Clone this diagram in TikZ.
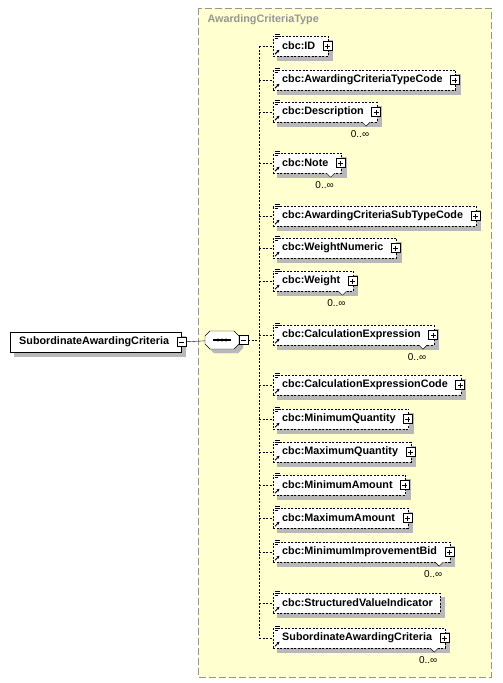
\documentclass[tikz,border=0pt]{standalone}
\usepackage{fontspec}
\setmainfont{Liberation Sans}
\usetikzlibrary{arrows.meta}

\definecolor{typebg}{RGB}{255,255,208}
\definecolor{typeline}{RGB}{150,150,150}

\pgfdeclarelayer{back}
\pgfdeclarelayer{shade}
\pgfsetlayers{back,shade,main}

\begin{document}
\begin{tikzpicture}[x=1pt,y=-1pt,
    every node/.style={font=\bfseries\fontsize{10.8}{12}\selectfont},
    elem/.style={draw,dash pattern=on 2pt off 1.5pt,fill=white,anchor=west,
      minimum height=20pt,inner xsep=0pt,inner ysep=0pt},
    root/.style={draw,fill=white,anchor=west,minimum height=20pt,
      inner xsep=0pt,inner ysep=0pt},
    seq/.style={minimum width=34pt,minimum height=18pt,inner sep=0pt},
    shadebox/.style={draw=black!28,line width=0.1pt,fill=black!28},
    plusbox/.style={draw,solid,fill=white,minimum size=9pt,inner sep=0pt,
      path picture={\draw ([xshift=-2.5pt]path picture bounding box.center) -- ([xshift=2.5pt]path picture bounding box.center)
        ([yshift=-2.5pt]path picture bounding box.center) -- ([yshift=2.5pt]path picture bounding box.center);}},
    minusbox/.style={draw,solid,fill=white,minimum size=9pt,inner sep=0pt,
      path picture={\draw ([xshift=-2.5pt]path picture bounding box.center) -- ([xshift=2.5pt]path picture bounding box.center);}},
    link/.style={draw,dash pattern=on 2pt off 1.5pt},
    mult/.style={font=\fontsize{10}{11}\selectfont}
  ]
\useasboundingbox (0,0) rectangle (503,683);

% the complex type
\begin{pgfonlayer}{back}
\draw[fill=typebg,draw=typeline,dash pattern=on 7pt off 3pt] (198,8) rectangle (491,677);
\end{pgfonlayer}
\node[anchor=base west,text=typeline] (tname) at (204,22) {AwardingCriteriaType};

% root element and sequence
\node[root] (root) at (10,342) {\hspace*{9pt}SubordinateAwardingCriteria\hspace*{12pt}};
\node[minusbox] (rootm) at (root.east) {};
\node[seq] (seq) at (222,340) {};
\draw[shadebox] (214,335) -- (238,335) -- (243,340) -- (243,348)
  -- (238,353) -- (214,353) -- (209,348) -- (209,340) -- cycle;
\draw[fill=white] (210,331) -- (234,331) -- (239,336) -- (239,344)
  -- (234,349) -- (210,349) -- (205,344) -- (205,336) -- cycle;
\draw[line width=1.2pt] ([xshift=-9pt]seq.center) -- ([xshift=9pt]seq.center);
\foreach \dx in {-4,0,4}
  \fill ([xshift=\dx pt]seq.center) circle (1.7pt);
\node[minusbox] (seqm) at ([xshift=4.5pt]seq.east) {};
\draw (rootm) -- (seq);
\coordinate (bus) at (259,340);
\draw[link] (seqm) -- (bus);

% child elements
\foreach \n/\y/\t in {id/46/cbc:ID, tcode/80/cbc:AwardingCriteriaTypeCode,
    desc/112/cbc:Description, note/163/cbc:Note,
    stcode/216/cbc:AwardingCriteriaSubTypeCode, wnum/248/cbc:WeightNumeric,
    weight/281/cbc:Weight, calc/335/cbc:CalculationExpression,
    ccode/385/cbc:CalculationExpressionCode, minq/419/cbc:MinimumQuantity,
    maxq/452/cbc:MaximumQuantity, mina/485/cbc:MinimumAmount,
    maxa/518/cbc:MaximumAmount, mib/552/cbc:MinimumImprovementBid,
    sac/638/SubordinateAwardingCriteria}
{
  \node[elem] (\n) at (273,\y) {\hspace*{9pt}\t\hspace*{13pt}};
  \node[plusbox] (\n p) at ([xshift=-1pt]\n.east) {};
}
\node[elem] (svi) at (273,603) {\hspace*{9pt}cbc:StructuredValueIndicator\hspace*{7pt}};

% shadows, icons and connectors
\begin{pgfonlayer}{shade}
\foreach \n in {root,id,tcode,desc,note,stcode,wnum,weight,calc,ccode,minq,maxq,mina,maxa,mib,svi,sac}
  \draw[shadebox] ([xshift=4pt,yshift=-4pt]\n.north west) rectangle ([xshift=4pt,yshift=-4pt]\n.south east);
\end{pgfonlayer}
\foreach \n in {id,tcode,desc,note,stcode,wnum,weight,calc,ccode,minq,maxq,mina,maxa,mib,svi,sac}
{
  \draw[link] (bus |- \n.west) -- (\n.west);
  \draw[fill=white,draw=none] ([xshift=1pt,yshift=1.5pt]\n.north west) rectangle ([xshift=7pt,yshift=-4.5pt]\n.north west);
  \draw[line width=0.8pt] ([xshift=1.5pt,yshift=1pt]\n.north west) -- ([xshift=6.5pt,yshift=1pt]\n.north west)
    ([xshift=1.5pt,yshift=-1pt]\n.north west) -- ([xshift=6.5pt,yshift=-1pt]\n.north west)
    ([xshift=1.5pt,yshift=-3pt]\n.north west) -- ([xshift=5pt,yshift=-3pt]\n.north west);
  \draw[-{Stealth[length=3pt,width=3pt]},line width=1pt] ([xshift=2pt,yshift=2pt]\n.south west) -- ([xshift=6.5pt,yshift=6.5pt]\n.south west);
}
\draw[link] (bus |- id.west) -- (bus |- sac.west);

% multiplicity
\foreach \n in {desc,note,weight,calc,mib,sac}
{
  \draw[fill=white] ([xshift=-15pt]\n.south east) -- ([xshift=-11pt,yshift=-4pt]\n.south east) -- ([xshift=-7pt]\n.south east);
  \node[mult] (\n m) at ([xshift=-17pt,yshift=-12pt]\n.south east) {0..∞};
}
\end{tikzpicture}
\end{document}
